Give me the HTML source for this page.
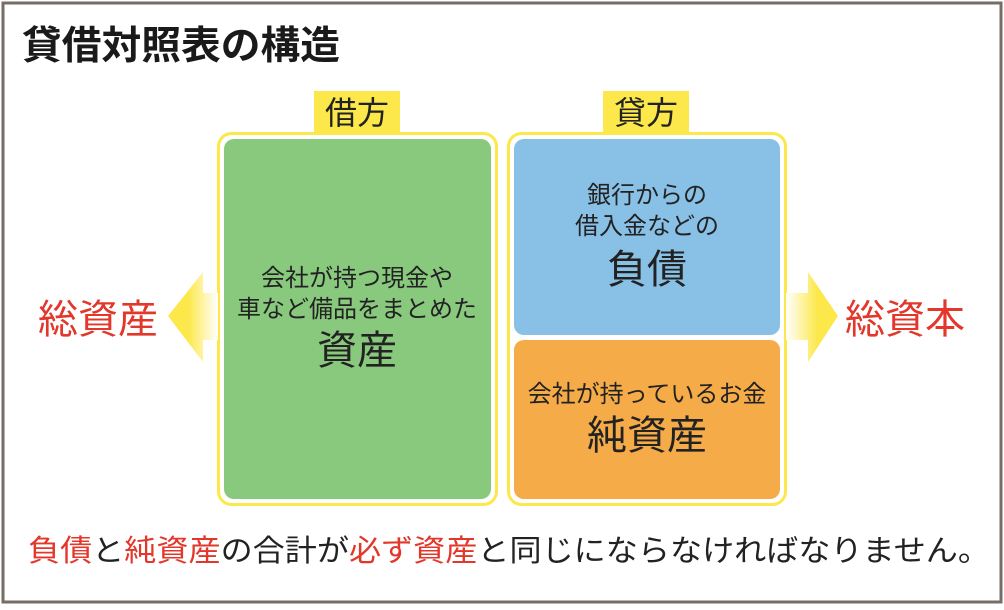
<!DOCTYPE html>
<html><head><meta charset="utf-8"><style>
html,body{margin:0;padding:0;background:#fff}
body{width:1004px;height:605px;overflow:hidden}
text{font-family:"Liberation Sans","Noto Sans CJK JP",sans-serif}
</style></head><body>
<svg width="1004" height="605" viewBox="0 0 1004 605" xmlns="http://www.w3.org/2000/svg">
<defs>
<linearGradient id="gl" x1="1" y1="0" x2="0" y2="0">
<stop offset="0" stop-color="#fff"/><stop offset="0.6" stop-color="#fce84a"/><stop offset="1" stop-color="#fce84a"/></linearGradient>
<linearGradient id="gr" x1="0" y1="0" x2="1" y2="0">
<stop offset="0" stop-color="#fff"/><stop offset="0.6" stop-color="#fce84a"/><stop offset="1" stop-color="#fce84a"/></linearGradient>
</defs>
<rect x="3" y="3" width="998" height="599" fill="#fff" stroke="#766e66" stroke-width="3"/>
<text x="22" y="59" font-size="39" font-weight="bold" fill="#1a1a1a" textLength="318" lengthAdjust="spacingAndGlyphs">貸借対照表の構造</text>
<!-- tabs -->
<rect x="314" y="91" width="86" height="42" fill="#fce84a"/>
<text x="357" y="124" font-size="32" text-anchor="middle" fill="#222">借方</text>
<rect x="603" y="91" width="86" height="42" fill="#fce84a"/>
<text x="646" y="124" font-size="32" text-anchor="middle" fill="#222">貸方</text>
<!-- frames -->
<rect x="218.5" y="133.5" width="278" height="371" rx="13" fill="#fff" stroke="#fce84a" stroke-width="3"/>
<rect x="508.5" y="133.5" width="277" height="371" rx="13" fill="#fff" stroke="#fce84a" stroke-width="3"/>
<rect x="224" y="139" width="267" height="360" rx="10" fill="#89c97e"/>
<rect x="514" y="139" width="266" height="196" rx="10" fill="#89c0e6"/>
<rect x="514" y="340" width="266" height="159" rx="10" fill="#f5ab47"/>
<!-- arrows -->
<polygon points="218,293 203,293 203,272 168,316 203,362 203,340 218,340" fill="url(#gl)"/>
<polygon points="786,293 808,293 808,272 838,316 808,362 808,340 786,340" fill="url(#gr)"/>
<text x="98" y="333" font-size="40" text-anchor="middle" fill="#e2372a">総資産</text>
<text x="905" y="333" font-size="40" text-anchor="middle" fill="#e2372a">総資本</text>
<!-- texts -->
<g fill="#222" text-anchor="middle">
<text x="357" y="286" font-size="24">会社が持つ現金や</text>
<text x="357" y="317" font-size="24">車など備品をまとめた</text>
<text x="357" y="364" font-size="40">資産</text>
<text x="647" y="203" font-size="24">銀行からの</text>
<text x="647" y="234" font-size="24">借入金などの</text>
<text x="647" y="283" font-size="40">負債</text>
<text x="647" y="402" font-size="24">会社が持っているお金</text>
<text x="647" y="449" font-size="40">純資産</text>
</g>
<text x="28" y="561" font-size="30" fill="#222" textLength="962" lengthAdjust="spacingAndGlyphs"><tspan fill="#e2372a">負債</tspan>と<tspan fill="#e2372a">純資産</tspan>の合計が<tspan fill="#e2372a">必ず資産</tspan>と同じにならなければなりません。</text>
</svg>
</body></html>
